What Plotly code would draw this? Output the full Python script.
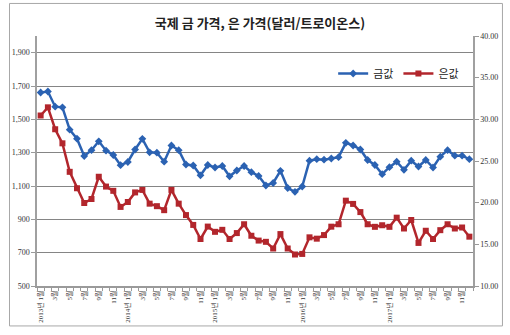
import plotly.graph_objects as go

# ---- data ----
gold = [1661, 1667, 1576, 1572, 1438, 1384, 1280, 1315, 1368, 1312,
        1286, 1225, 1244, 1319, 1383, 1302, 1300, 1246, 1343, 1315,
        1229, 1223, 1164, 1226, 1211, 1220, 1158, 1193, 1220, 1183,
        1160, 1103, 1118, 1191, 1088, 1065, 1097, 1252, 1261, 1258,
        1265, 1273, 1359, 1343, 1319, 1256, 1226, 1171, 1213, 1246,
        1197, 1252, 1217, 1256, 1211, 1276, 1315, 1282, 1282, 1261]
silver = [30.46, 31.44, 28.81, 27.12, 23.70, 21.73, 19.96, 20.44, 23.11, 21.93,
          21.42, 19.49, 20.08, 21.23, 21.53, 19.88, 19.58, 19.10, 21.53, 19.88,
          18.51, 17.33, 15.64, 17.13, 16.50, 16.74, 15.64, 16.35, 17.41, 16.03,
          15.45, 15.30, 14.50, 16.23, 14.50, 13.78, 13.85, 15.84, 15.68, 16.11,
          17.12, 17.41, 20.24, 19.85, 18.87, 17.41, 17.10, 17.29, 17.10, 18.20,
          16.90, 17.92, 15.17, 16.63, 15.64, 16.70, 17.41, 16.90, 17.02, 15.92]
years = [2013, 2014, 2015, 2016, 2017]
label_months = [1, 3, 5, 7, 9, 11]
tick_labels = []
for y in years:
    for m in label_months:
        tick_labels.append(f"{y}년 {m}월" if m == 1 else f"{m}월")

months = list(range(len(gold)))
tick_positions = months[::2]

BLUE = "#2B62B2"
RED = "#B2262C"

fig = go.Figure()
fig.add_trace(go.Scatter(
    x=months, y=gold, name="금값", mode="lines+markers",
    line=dict(color=BLUE, width=2.5),
    marker=dict(symbol="diamond", size=6, color=BLUE),
))
fig.add_trace(go.Scatter(
    x=months, y=silver, name="은값", mode="lines+markers", yaxis="y2",
    line=dict(color=RED, width=2.5),
    marker=dict(symbol="square", size=6, color=RED),
))

L, R, T, B = 31, 475, 36, 289.5
W, H = 510, 335
pw, ph = R - L, B - T

tickfont = dict(family="Liberation Serif, Noto Sans CJK KR", size=8, color="#333333")

fig.update_layout(
    width=W, height=H,
    margin=dict(l=L, r=W - R, t=T, b=H - B, pad=0),
    paper_bgcolor="white", plot_bgcolor="white",
    title=dict(text="<b>국제 금 가격, 은 가격(달러/트로이온스)</b>",
               x=260 / W, xanchor="center", y=1 - 23 / H, yanchor="middle",
               yref="container",
               font=dict(family="Noto Sans CJK KR", size=13, color="#222222")),
    showlegend=True,
    legend=dict(orientation="h", x=(466 - L) / pw, xanchor="right",
                y=(B - 74) / ph, yanchor="middle",
                font=dict(family="Noto Sans CJK KR", size=11, color="#222222"),
                bgcolor="rgba(0,0,0,0)", itemwidth=30, tracegroupgap=0),
    xaxis=dict(
        range=[-0.5, len(gold) - 0.5],
        tickmode="array", tickvals=tick_positions, ticktext=tick_labels,
        tickangle=-90, tickfont=dict(family="Liberation Serif, Noto Sans CJK KR", size=7, color="#333333"),
        ticks="", showgrid=False, zeroline=False,
        showline=True, linecolor="#9a9a9a", linewidth=1.5,
        minor=dict(ticks="outside", tick0=-0.5, dtick=1, ticklen=3,
                   tickcolor="#9a9a9a", showgrid=False),
    ),
    yaxis=dict(
        range=[500, 2000], tickmode="array",
        tickvals=[500, 700, 900, 1100, 1300, 1500, 1700, 1900],
        tickformat=",", tickfont=tickfont,
        ticks="outside", ticklen=4, tickcolor="#9a9a9a",
        showgrid=True, gridcolor="#858585", gridwidth=1.3,
        zeroline=False, showline=True, linecolor="#a0a0a0", linewidth=1.5,
    ),
    yaxis2=dict(
        range=[10, 40], dtick=5, tick0=10, tickformat=".2f",
        overlaying="y", side="right", tickfont=tickfont,
        ticks="outside", ticklen=4, tickcolor="#9a9a9a",
        showgrid=False, zeroline=False,
        showline=True, linecolor="#a0a0a0", linewidth=1.5,
    ),
    shapes=[dict(type="rect", xref="paper", yref="paper",
                 x0=(3 - L) / pw, x1=(505 - L) / pw,
                 y0=(B - 330) / ph, y1=(B - 3) / ph,
                 line=dict(color="#a8a8a8", width=1), fillcolor="rgba(0,0,0,0)",
                 layer="below")],
)

fig.write_html("out.html")
